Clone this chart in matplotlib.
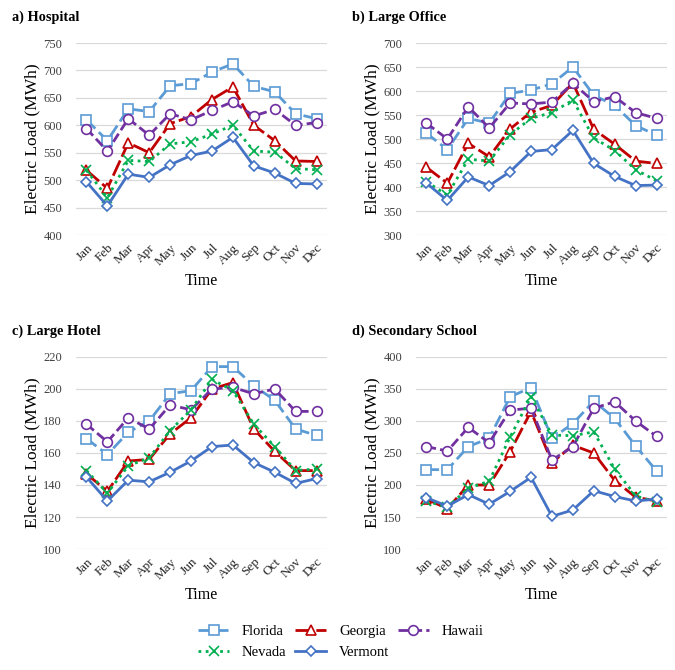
import matplotlib
matplotlib.use('Agg')
import matplotlib.pyplot as plt

plt.rcParams['font.family'] = ['Liberation Serif', 'DejaVu Serif']

months = ['Jan', 'Feb', 'Mar', 'Apr', 'May', 'Jun', 'Jul', 'Aug', 'Sep', 'Oct', 'Nov', 'Dec']
states = ['Florida', 'Georgia', 'Hawaii', 'Nevada', 'Vermont']

# a) Hospital
hospital_florida = [610, 572, 630, 625, 672, 676, 697, 712, 671, 661, 621, 612]
hospital_georgia = [518, 485, 568, 550, 603, 616, 647, 670, 600, 572, 535, 534]
hospital_hawaii = [594, 553, 612, 582, 621, 610, 627, 643, 617, 629, 600, 605]
hospital_nevada = [518, 468, 536, 534, 566, 570, 584, 600, 553, 551, 521, 519]
hospital_vermont = [497, 453, 511, 505, 528, 545, 553, 578, 526, 513, 494, 493]

# b) Large Office
office_florida = [512, 478, 543, 533, 595, 602, 615, 650, 591, 570, 528, 508]
office_georgia = [441, 408, 491, 463, 521, 556, 570, 617, 520, 489, 454, 449]
office_hawaii = [533, 500, 567, 523, 575, 573, 577, 616, 578, 588, 555, 543]
office_nevada = [411, 383, 458, 454, 509, 543, 555, 581, 502, 476, 436, 413]
office_vermont = [408, 372, 421, 403, 432, 474, 478, 518, 449, 422, 403, 404]

# c) Large Hotel
hotel_florida = [169, 159, 173, 180, 197, 199, 214, 214, 202, 193, 175, 171]
hotel_georgia = [147, 136, 155, 156, 172, 182, 200, 204, 175, 161, 149, 149]
hotel_hawaii = [178, 167, 182, 175, 190, 187, 200, 201, 197, 200, 186, 186]
hotel_nevada = [149, 135, 152, 157, 174, 187, 206, 199, 178, 164, 149, 150]
hotel_vermont = [145, 130, 143, 142, 148, 155, 164, 165, 154, 148, 141, 144]

# d) Secondary School
school_florida = [224, 224, 260, 273, 338, 352, 273, 296, 331, 304, 261, 222]
school_georgia = [178, 163, 200, 200, 252, 315, 235, 262, 250, 207, 181, 175]
school_hawaii = [260, 253, 290, 266, 317, 320, 239, 260, 320, 330, 300, 276]
school_nevada = [175, 165, 195, 206, 275, 338, 278, 277, 283, 225, 183, 173]
school_vermont = [180, 167, 185, 170, 190, 212, 151, 161, 191, 182, 175, 178]

panels = [
    ('a) Hospital', [hospital_florida, hospital_georgia, hospital_hawaii, hospital_nevada, hospital_vermont], (400, 750, 50)),
    ('b) Large Office', [office_florida, office_georgia, office_hawaii, office_nevada, office_vermont], (300, 700, 50)),
    ('c) Large Hotel', [hotel_florida, hotel_georgia, hotel_hawaii, hotel_nevada, hotel_vermont], (100, 220, 20)),
    ('d) Secondary School', [school_florida, school_georgia, school_hawaii, school_nevada, school_vermont], (100, 400, 50)),
]

styles = {
    'Florida': dict(color='#5B9BD5', ls=(0, (4.5, 1.8)), marker='s'),
    'Georgia': dict(color='#C00000', ls=(0, (6, 1.5)), marker='^'),
    'Hawaii': dict(color='#7030A0', ls=(0, (3.5, 1.5)), marker='o'),
    'Nevada': dict(color='#00B050', ls=(0, (1, 1.6)), marker='x'),
    'Vermont': dict(color='#4472C4', ls='-', marker='D'),
}

W, H = 675, 670
fig = plt.figure(figsize=(6.75, 6.70), dpi=100)

# axes boxes in pixels: left, top
boxes = [(76, 43), (416, 43), (76, 357), (416, 357)]
aw, ah = 251, 192
title_pos = [(12, 17), (352, 17), (12, 331), (352, 331)]

handles = []
for k, (title, series, (ymin, ymax, step)) in enumerate(panels):
    lx, ty = boxes[k]
    ax = fig.add_axes([lx / W, 1 - (ty + ah) / H, aw / W, ah / H])
    x = list(range(len(months)))
    hs = []
    for name, vals in zip(states, series):
        st = styles[name]
        ms = 7 if st['marker'] in ('s', 'o') else 7.5
        if st['marker'] == 'D':
            ms = 5.5
        h, = ax.plot(x, vals, color=st['color'], linestyle=st['ls'], linewidth=2,
                     marker=st['marker'], markersize=ms, markerfacecolor='white',
                     markeredgecolor=st['color'], markeredgewidth=1.2, label=name)
        hs.append(h)
    handles = hs
    ax.set_xlim(-0.5, len(months) - 0.5)
    ax.set_ylim(ymin, ymax)
    ax.set_yticks(range(ymin, ymax + 1, step))
    ax.set_xticks(x)
    ax.set_xticklabels(months, rotation=45, ha='right', rotation_mode='anchor',
                       fontsize=9.5, color='#262626')
    ax.grid(axis='y', color='#d9d9d9', linewidth=0.9)
    ax.set_axisbelow(True)
    for s in ax.spines.values():
        s.set_visible(False)
    ax.tick_params(length=0, labelsize=9, colors='#404040', pad=5)
    ax.tick_params(axis='x', labelcolor='#262626', labelsize=9.5)
    ax.tick_params(axis='y', pad=10)
    ax.set_ylabel('Electric Load (MWh)', fontsize=12.5, labelpad=2)
    ax.set_xlabel('Time', fontsize=11.5, labelpad=4)
    tx, tyy = title_pos[k]
    fig.text(tx / W, 1 - tyy / H, title, fontsize=10.3, fontweight='bold', va='center', ha='left')

order = [0, 3, 1, 4, 2]
fig.legend([handles[i] for i in order], [states[i] for i in order], ncol=3,
           loc='center', bbox_to_anchor=(341 / W, 1 - 642 / H), frameon=False,
           fontsize=10.5, handlelength=2.1, columnspacing=0.6, handletextpad=0.9,
           labelspacing=0.55)

fig.savefig('out.png', dpi=100)
